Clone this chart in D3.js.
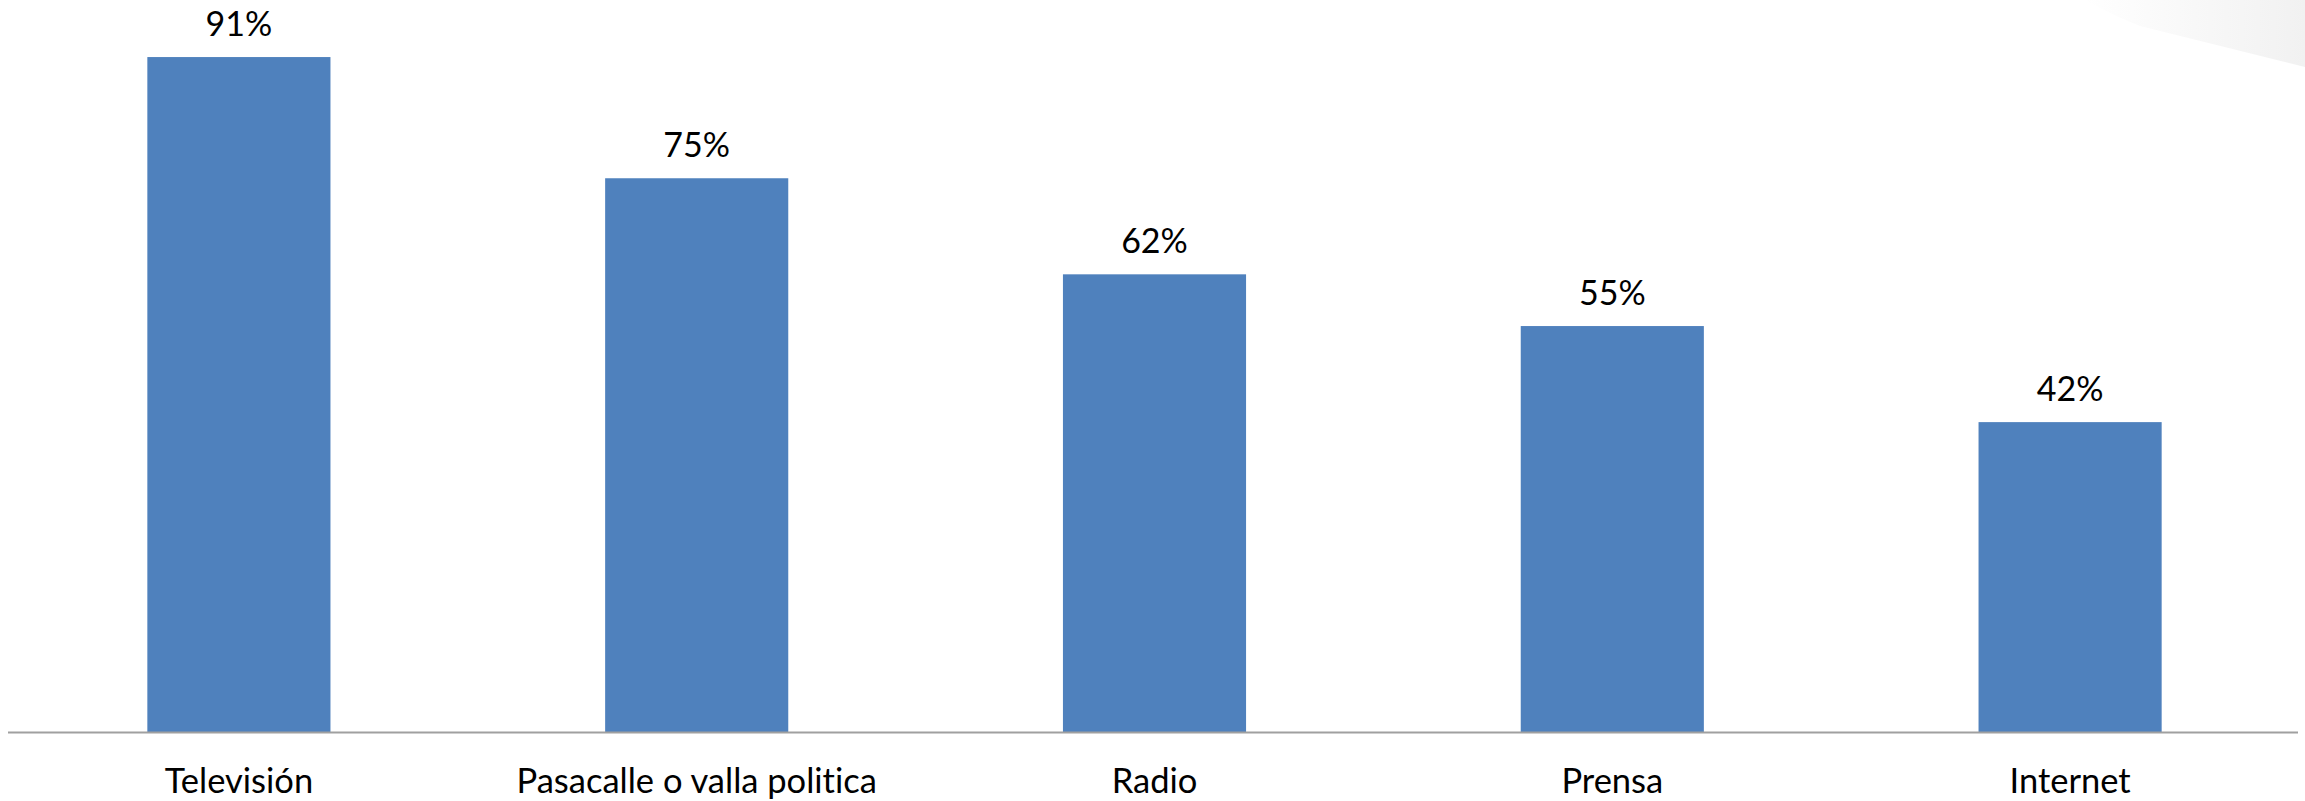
<!DOCTYPE html>
<html>
<head>
<meta charset="utf-8">
<script src="https://cdn.jsdelivr.net/npm/d3@7/dist/d3.min.js"></script>
<style>
  html, body { margin: 0; padding: 0; background: #ffffff; }
  svg { display: block; }
  text { font-variant-ligatures: none; font-feature-settings: "liga" 0, "clig" 0; }
</style>
</head>
<body>
<svg id="chart" width="2305" height="801"></svg>
<script>
const categories = ["Televisión", "Pasacalle o valla politica", "Radio", "Prensa", "Internet"];
const values = [91.4, 75, 62, 55, 42];
const valueLabels = ["91%", "75%", "62%", "55%", "42%"];

const W = 2305, H = 801;
const svg = d3.select("#chart");

// decorative corner gradient
const defs = svg.append("defs");
const grad = defs.append("linearGradient").attr("id", "cornerGrad")
  .attr("x1", "0%").attr("y1", "0%").attr("x2", "100%").attr("y2", "0%");
grad.append("stop").attr("offset", "0%").attr("stop-color", "#ffffff");
grad.append("stop").attr("offset", "100%").attr("stop-color", "#f1f1f1");
svg.append("path")
  .attr("d", "M2085,0 L2305,0 L2305,67 L2140,26 Q2110,14 2085,0 Z")
  .attr("fill", "url(#cornerGrad)");

const baseY = 732.5;
const x = d3.scaleBand().domain(categories).range([10, 2299]).paddingInner(0.6).paddingOuter(0.3);
const y = d3.scaleLinear().domain([0, 100]).range([baseY, baseY - 739]);

svg.selectAll("rect.bar").data(values).join("rect")
  .attr("class", "bar")
  .attr("x", (d, i) => x(categories[i]))
  .attr("width", x.bandwidth())
  .attr("y", d => y(d))
  .attr("height", d => baseY - y(d))
  .attr("fill", "#4F81BD");

svg.selectAll("text.val").data(values).join("text")
  .attr("class", "val")
  .attr("x", (d, i) => x(categories[i]) + x.bandwidth() / 2)
  .attr("y", d => y(d) - 21)
  .attr("text-anchor", "middle")
  .attr("font-family", "Lato, 'Noto Sans', sans-serif")
  .attr("font-size", 34)
  .attr("fill", "#000")
  .text((d, i) => valueLabels[i]);

const axis = d3.axisBottom(x).tickSizeInner(0).tickSizeOuter(0).tickPadding(0);
const gAxis = svg.append("g").attr("transform", `translate(0,${baseY})`).call(axis);
gAxis.select(".domain").attr("stroke", "#a0a0a0").attr("stroke-width", 2)
  .attr("d", "M8,0H2298");
gAxis.selectAll(".tick text")
  .attr("y", 60.5).attr("dy", 0)
  .attr("font-family", "Lato, 'Noto Sans', sans-serif")
  .attr("font-size", 34.5)
  .attr("fill", "#000");
</script>
</body>
</html>
